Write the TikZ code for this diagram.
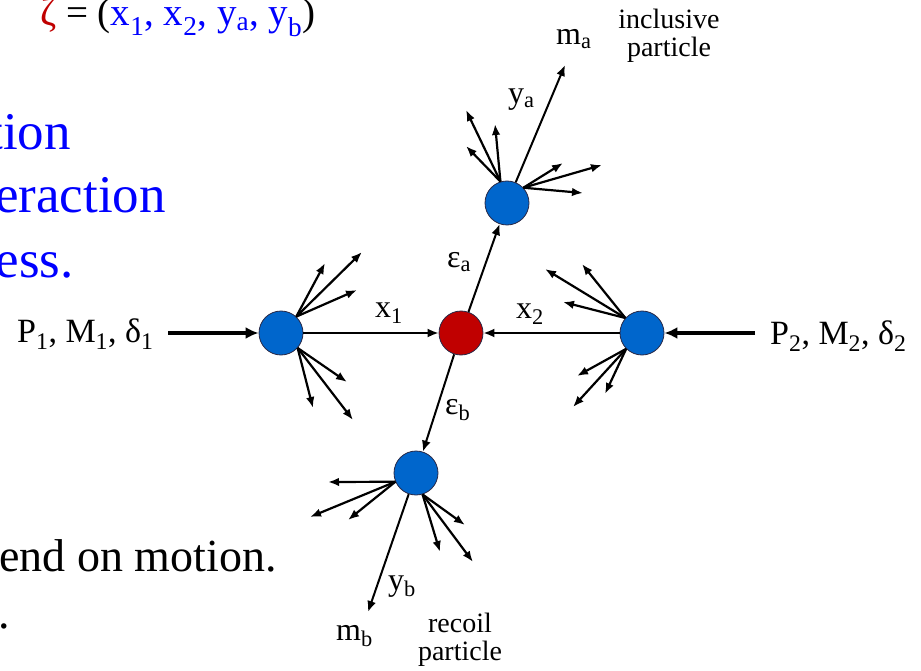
\documentclass[tikz,border=0pt]{standalone}
\usepackage{fontspec}
\setmainfont{Liberation Serif}
\usetikzlibrary{arrows.meta}
\definecolor{blobblue}{RGB}{0,102,204}
\definecolor{blobred}{RGB}{192,0,0}
\definecolor{textblue}{RGB}{0,0,255}
\definecolor{rimgray}{RGB}{40,40,70}
\begin{document}
\begin{tikzpicture}[x=1pt,y=-1pt,
  blob/.style={circle,draw=rimgray,line width=0.8pt,minimum size=44pt,inner sep=0pt},
  spray/.style={line width=2.2pt,-{Latex[length=11pt,width=8.5pt]}},
  beam/.style={line width=3.6pt,-{Latex[length=13pt,width=12pt]}},
  link/.style={line width=2pt,-{Latex[length=11pt,width=9pt]}},
  lbl/.style={inner sep=0pt,anchor=base west,font=\fontsize{32}{38}\selectfont},
  biglbl/.style={inner sep=0pt,anchor=base west,font=\fontsize{34}{40}\selectfont},
  small/.style={inner sep=0pt,align=center,font=\fontsize{28}{28}\selectfont},
  slide/.style={inner sep=0pt,anchor=base east,font=\fontsize{53}{63}\selectfont,text=textblue}]
\useasboundingbox (0,0) rectangle (921,671);
\clip (0,0) rectangle (921,671);
\node[inner sep=0pt,anchor=base west,font=\fontsize{39}{46}\selectfont] (zeta) at (40,26)
  {\textcolor{blobred}{ζ} = (\textcolor{textblue}{x\textsubscript{1}, x\textsubscript{2}, y\textsubscript{a}, y\textsubscript{b}})};
\node[slide] (s1) at (71,150) {tion};
\node[slide] (s2) at (166,213) {eraction};
\node[slide] (s3) at (74,277) {ess.};
\node[inner sep=0pt,anchor=base east,font=\fontsize{46}{56}\selectfont] (s4) at (277,571) {end on motion.};
\node[inner sep=0pt,anchor=base west,font=\fontsize{46}{56}\selectfont] (s5) at (-2,628) {.};
\node[blob,fill=blobblue] (L) at (281,333) {};
\node[blob,fill=blobred] (C) at (461,333) {};
\node[blob,fill=blobblue] (R) at (642,333) {};
\node[blob,fill=blobblue] (A) at (507,203) {};
\node[blob,fill=blobblue] (B) at (416,473) {};
\coordinate (p1) at (168,333);
\coordinate (p2) at (755,333);
\coordinate (ma) at (565,65);
\coordinate (mb) at (368,612);
\foreach \n/\p in {l1/{325,263},l2/{362,252},l3/{357,290},l4/{347,382},l5/{313,408},l6/{353,420},
  r1/{545,269},r2/{582,264},r3/{563,302},r4/{577,376},r5/{605,394},r6/{573,407},
  a1/{466,110},a2/{495,124},a3/{466,146},a4/{563,163},a5/{602,165},a6/{583,193},
  b1/{328,482},b2/{310,517},b3/{348,520},b4/{465,525},b5/{440,552},b6/{473,562}}
  \coordinate (\n) at (\p);
\foreach \e in {l1,l2,l3} \draw[spray] (L.47) -- (\e);
\foreach \e in {l4,l5,l6} \draw[spray] (L.-42) -- (\e);
\foreach \e in {r1,r2,r3} \draw[spray] (R.138) -- (\e);
\foreach \e in {r4,r5,r6} \draw[spray] (R.225) -- (\e);
\foreach \e in {a1,a2,a3} \draw[spray] (A.107) -- (\e);
\foreach \e in {a4,a5,a6} \draw[spray] (A.43) -- (\e);
\foreach \e in {b1,b2,b3} \draw[spray] (B.203) -- (\e);
\foreach \e in {b4,b5,b6} \draw[spray] (B.287) -- (\e);
\draw[beam] (p1) -- (L);
\draw[beam] (p2) -- (R);
\draw[link] (L) -- (C);
\draw[link] (R) -- (C);
\draw[link] (C) -- (A);
\draw[link] (C) -- (B);
\draw[link] (A) -- (ma);
\draw[link] (B) -- (mb);
\node[biglbl] (P1) at (17,342) {P\textsubscript{1}, M\textsubscript{1}, δ\textsubscript{1}};
\node[biglbl] (P2) at (770,344) {P\textsubscript{2}, M\textsubscript{2}, δ\textsubscript{2}};
\node[lbl] (x1) at (375,317) {x\textsubscript{1}};
\node[lbl] (x2) at (516,318) {x\textsubscript{2}};
\node[lbl] (ea) at (447,268) {ε\textsubscript{a}};
\node[lbl] (eb) at (445,414) {ε\textsubscript{b}};
\node[lbl] (ya) at (508,104) {y\textsubscript{a}};
\node[lbl] (yb) at (388,590) {y\textsubscript{b}};
\node[lbl] (mat) at (556,45) {m\textsubscript{a}};
\node[lbl] (mbt) at (336,640) {m\textsubscript{b}};
\node[small] (incl) at (669,36) {inclusive\\particle};
\node[small] (rec) at (460,640) {recoil\\particle};
\end{tikzpicture}
\end{document}
